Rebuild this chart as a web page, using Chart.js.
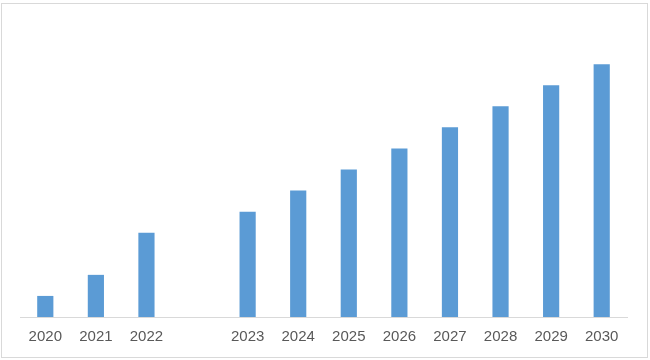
<!DOCTYPE html>
<html lang="en">
<head>
  <meta charset="UTF-8">
  <title>Growth 2020-2030</title>
  <script src="https://cdn.jsdelivr.net/npm/chart.js"></script>
  <style>
    body {
      margin: 0;
      padding: 0;
      background-color: #fff;
    }

    #frame {
      position: absolute;
      left: 1px;
      top: 3px;
      width: 645px;
      height: 353px;
      border: 1px solid #d9d9d9;
    }
  </style>
</head>
<body>
  <div id="frame">
    <canvas id="growthChart" width="645" height="353"></canvas>
  </div>

  <script>
    // Categories (the blank one is the gap after 2022)
    const years = ["2020", "2021", "2022", "", "2023", "2024", "2025", "2026", "2027", "2028", "2029", "2030"];
    // Bar heights (relative units)
    const values = [1, 2, 4, null, 5, 6, 7, 8, 9, 10, 11, 12];
    const yMax = 14;

    const ctx = document.getElementById("growthChart").getContext("2d");
    const growthChart = new Chart(ctx, {
      type: "bar",
      data: {
        labels: years,
        datasets: [
          {
            data: values,
            backgroundColor: "#5b9bd5",
            categoryPercentage: 1.0,
            barPercentage: 0.32,
          },
        ],
      },
      options: {
        responsive: false,
        animation: false,
        layout: { padding: { top: 18, bottom: 0, left: 18, right: 20 } },
        plugins: {
          legend: { display: false },
          tooltip: { enabled: false },
        },
        scales: {
          x: {
            grid: { display: false, drawTicks: false },
            border: { display: true, color: "#d9d9d9", width: 1 },
            ticks: {
              color: "#595959",
              padding: 11,
              maxRotation: 0,
              autoSkip: false,
              font: { family: "Liberation Sans", size: 15 },
            },
            afterFit: (scale) => {
              scale.height = 40; // keep the axis band the same as the reference
            },
          },
          y: {
            display: false,
            min: 0,
            max: yMax,
          },
        },
      },
    });
  </script>
</body>
</html>
